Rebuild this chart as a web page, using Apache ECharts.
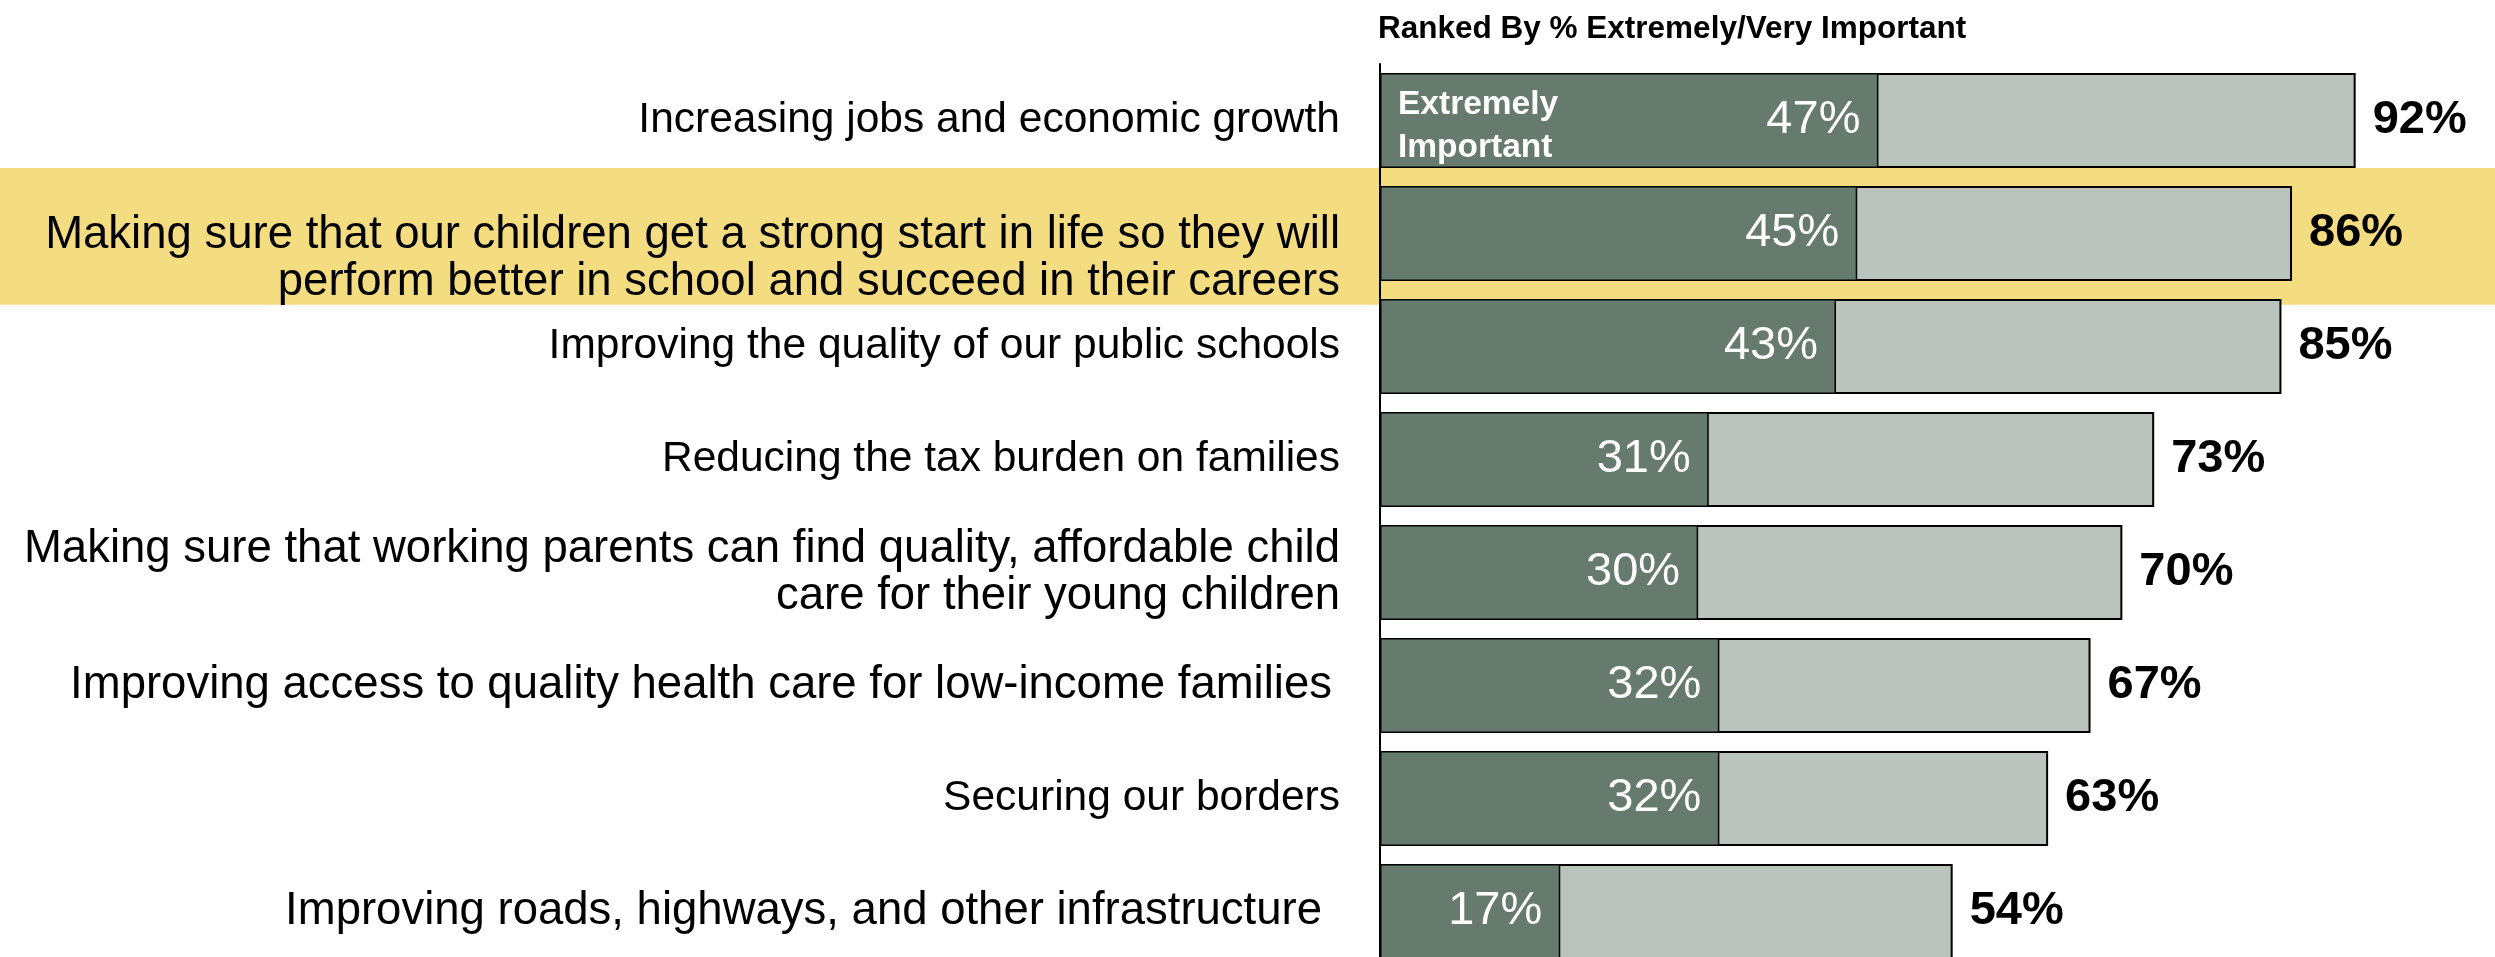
<!DOCTYPE html>
<html>
<head>
<meta charset="utf-8">
<script src="https://cdn.jsdelivr.net/npm/echarts@6/dist/echarts.min.js"></script>
<style>
  html, body { margin: 0; padding: 0; background: #ffffff; }
  #chart { width: 2495px; height: 957px; }
</style>
</head>
<body>
<div id="chart"></div>
<script>
// Issue priorities, ranked by % extremely/very important
const categories = [
  'Increasing jobs and economic growth',
  'Making sure that our children get a strong start in life so they will\nperform better in school and succeed in their careers',
  'Improving the quality of our public schools',
  'Reducing the tax burden on families',
  'Making sure that working parents can find quality, affordable child\ncare for their young children',
  'Improving access to quality health care for low-income families',
  'Securing our borders',
  'Improving roads, highways, and other infrastructure'
];
// % saying "extremely important"
const extremelyImportant = [47, 45, 43, 31, 30, 32, 32, 17];
// % saying "extremely" or "very important"
const extremelyOrVery = [92, 86, 85, 73, 70, 67, 63, 54];
const highlightIndex = 1;

const FONT = '"Liberation Sans", Arial, Helvetica, sans-serif';
const DARK = '#667a6e';
const LIGHT = '#bac4bd';
const YELLOW = '#f4dc80';

const chart = echarts.init(document.getElementById('chart'), null, { renderer: 'canvas' });

// category label styles: the longer statements are set slightly larger
const largeLabels = [1, 4, 5, 7];
const rightInset = { 5: 8, 7: 18 };

function categoryLabel(value, index) {
  const idx = typeof index === 'number' ? index : categories.indexOf(value);
  let style = largeLabels.indexOf(idx) >= 0 ? 'lg' : 'sm';
  if (rightInset[idx] === 8) style = 'lg8';
  if (rightInset[idx] === 18) style = 'lg18';
  let text = value.split('\n').map(l => '{' + style + '|' + l + '}').join('\n');
  if (idx === highlightIndex) text = '{gap| }\n' + text;
  return text;
}

chart.setOption({
  animation: false,
  backgroundColor: '#ffffff',
  title: {
    text: 'Ranked By % Extremely/Very Important',
    left: 1378,
    top: 13,
    padding: 0,
    textStyle: { fontFamily: FONT, fontSize: 31.5, fontWeight: 'bold', color: '#000000' }
  },
  grid: {
    left: 1380,
    right: 54.5,
    top: 64,
    bottom: -11,
    containLabel: false,
    outerBoundsMode: 'none'
  },
  xAxis: {
    type: 'value',
    min: 0,
    max: 100,
    show: false
  },
  yAxis: {
    type: 'category',
    inverse: true,
    data: categories,
    axisLine: { show: true, lineStyle: { color: '#000000', width: 2 } },
    axisTick: { show: false },
    splitLine: { show: false },
    axisLabel: {
      margin: 40,
      fontFamily: FONT,
      fontSize: 42.5,
      lineHeight: 46,
      color: '#000000',
      align: 'right',
      formatter: categoryLabel,
      rich: {
        sm: { fontFamily: FONT, fontSize: 42.5, lineHeight: 46, color: '#000000' },
        lg: { fontFamily: FONT, fontSize: 45.5, lineHeight: 47, color: '#000000' },
        lg8: { fontFamily: FONT, fontSize: 45.5, lineHeight: 47, color: '#000000', padding: [0, 8, 0, 0] },
        lg18: { fontFamily: FONT, fontSize: 45.5, lineHeight: 47, color: '#000000', padding: [0, 18, 0, 0] },
        gap: { fontFamily: FONT, fontSize: 10, lineHeight: 50, color: 'rgba(0,0,0,0)' }
      }
    }
  },
  series: [
    {
      name: 'Extremely/Very Important',
      type: 'bar',
      data: extremelyOrVery,
      barWidth: 95,
      barGap: '-100%',
      z: 2,
      itemStyle: { color: LIGHT, borderColor: '#000000', borderWidth: 2 },
      label: {
        show: true,
        position: 'right',
        distance: 17,
        formatter: p => p.value + '%',
        fontFamily: FONT,
        fontSize: 47,
        fontWeight: 'bold',
        color: '#000000'
      }
    },
    {
      name: 'Extremely Important',
      type: 'bar',
      data: extremelyImportant,
      barWidth: 95,
      barGap: '-100%',
      z: 3,
      itemStyle: { color: DARK, borderColor: '#000000', borderWidth: 1.5 },
      label: {
        show: true,
        position: 'insideRight',
        distance: 18,
        formatter: p => p.value + '%',
        fontFamily: FONT,
        fontSize: 47,
        color: '#ffffff'
      }
    }
  ]
});

// highlight band behind the second row, and the in-bar legend text
function addDecorations() {
  const c0 = chart.convertToPixel({ yAxisIndex: 0 }, 0);
  const c1 = chart.convertToPixel({ yAxisIndex: 0 }, 1);
  const pitch = c1 - c0;
  const hc = chart.convertToPixel({ yAxisIndex: 0 }, highlightIndex);
  const x0 = chart.convertToPixel({ xAxisIndex: 0 }, 0);
  chart.setOption({
    graphic: [
      {
        type: 'rect',
        z: -10,
        silent: true,
        shape: { x: 0, y: hc - pitch * 0.58, width: 2495, height: pitch * 1.21 },
        style: { fill: YELLOW }
      },
      {
        type: 'text',
        z: 100,
        silent: true,
        x: x0 + 18,
        y: c0 + 6,
        style: {
          text: 'Extremely\nImportant',
          fill: '#ffffff',
          font: 'bold 33.5px ' + FONT,
          lineHeight: 43,
          verticalAlign: 'middle',
          align: 'left'
        }
      }
    ]
  });
}
addDecorations();
</script>
</body>
</html>
